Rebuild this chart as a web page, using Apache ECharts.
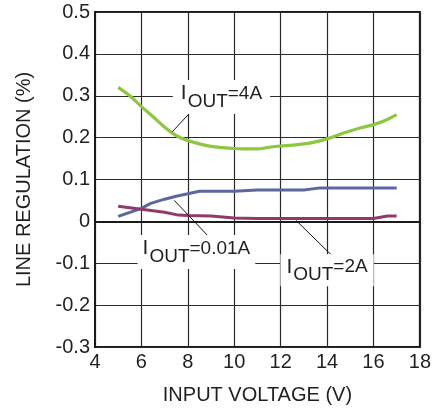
<!DOCTYPE html>
<html><head><meta charset="utf-8">
<script src="https://cdn.jsdelivr.net/npm/echarts@6/dist/echarts.min.js"></script>
<style>html,body{margin:0;padding:0;background:#fff}#c{width:434px;height:413px}</style>
</head><body><div id="c"></div>
<script>
// Data
const vin4A = [5,5.5,6,6.5,7,7.5,8,8.5,9,9.5,10,10.5,11,11.5,12,12.5,13,13.5,14,14.5,15,15.5,16,16.5,17];
const reg4A = [0.32,0.30,0.274,0.25,0.225,0.205,0.193,0.185,0.179,0.176,0.174,0.173,0.173,0.177,0.18,0.182,0.185,0.19,0.197,0.207,0.216,0.224,0.231,0.241,0.255];
const vin001A = [5,6,6.4,7,7.5,8,8.5,9,10,11,12,13,13.7,15,16,17];
const reg001A = [0.012,0.031,0.043,0.053,0.06,0.066,0.072,0.072,0.072,0.075,0.075,0.075,0.08,0.08,0.08,0.08];
const vin2A = [5,6,7,7.6,8,9,10,11,12,13,14,15,16,16.6,17];
const reg2A = [0.036,0.029,0.022,0.015,0.014,0.013,0.008,0.007,0.007,0.007,0.007,0.007,0.007,0.013,0.013];
const xTicks = [4,6,8,10,12,14,16,18];
const yTicks = [-0.3,-0.2,-0.1,0,0.1,0.2,0.3,0.4,0.5];
const labels = ['4A','0.01A','2A'];

const FONT = "'Liberation Sans', Arial, sans-serif";
const TXT = '#231f20';
const zip = (xs, ys) => xs.map((x, i) => [x, ys[i]]);

function ann(coord, cur, pad) {
  return {
    coord: coord, symbolSize: 0,
    label: {
      show: true, position: 'inside',
      formatter: '{i|I}{s|OUT}{n|=' + cur + '}',
      backgroundColor: '#fff', padding: pad,
      rich: {
        i: {fontSize: 21, fontFamily: FONT, color: TXT, padding: [0,1,8,0]},
        s: {fontSize: 19, fontFamily: FONT, color: TXT, padding: [8,0,0,0]},
        n: {fontSize: 19, fontFamily: FONT, color: TXT, padding: [0,0,8,0]}
      }
    }
  };
}
function leader(a, b) {
  return [{coord: a}, {coord: b}];
}
const mlBase = {symbol: ['none','none'], silent: true, animation: false,
  label: {show: false}, lineStyle: {color: '#111', width: 1, type: 'solid'}, emphasis: {disabled: true}};
const mpBase = {silent: true, animation: false, symbol: 'rect'};

const chart = echarts.init(document.getElementById('c'), null, {renderer: 'canvas'});
chart.setOption({
  animation: false,
  backgroundColor: '#fff',
  grid: {left: 95, right: 3, top: 12, bottom: 66, show: true, borderColor: '#1a1a1a', borderWidth: 2, backgroundColor: 'transparent'},
  xAxis: {
    type: 'value', min: xTicks[0], max: xTicks[xTicks.length-1], interval: 2,
    name: 'INPUT VOLTAGE (V)', nameLocation: 'middle', nameGap: 38,
    nameTextStyle: {fontSize: 20, fontFamily: FONT, color: TXT},
    axisLine: {show: true, lineStyle: {color: '#1a1a1a', width: 2}},
    axisTick: {show: false},
    axisLabel: {fontSize: 20, fontFamily: FONT, color: TXT, margin: 5, showMaxLabel: true, showMinLabel: true},
    splitLine: {show: true, lineStyle: {color: '#2a2a2a', width: 1.2}}
  },
  yAxis: {
    type: 'value', min: yTicks[0], max: yTicks[yTicks.length-1], interval: 0.1,
    name: 'LINE REGULATION (%)', nameLocation: 'middle', nameGap: 61,
    nameTextStyle: {fontSize: 20, fontFamily: FONT, color: TXT},
    axisLine: {show: true, lineStyle: {color: '#1a1a1a', width: 2}},
    axisTick: {show: false},
    axisLabel: {fontSize: 20, fontFamily: FONT, color: TXT, margin: 5,
      formatter: v => (Math.round(v*10)/10).toString()},
    splitLine: {show: true, lineStyle: {color: '#2a2a2a', width: 1.2}}
  },
  series: [
    {type: 'line', data: zip(vin4A, reg4A), showSymbol: false, smooth: 0.3,
     lineStyle: {color: '#8dc63f', width: 3.2}, z: 3,
     markLine: Object.assign({data: [leader([7.33,0.214],[8.46,0.281])]}, mlBase),
     markPoint: Object.assign({data: [ann([9.45,0.297], labels[0], [3,8,2,8])]}, mpBase)},
    {type: 'line', data: zip(vin001A, reg001A), showSymbol: false,
     lineStyle: {color: '#5c67a0', width: 3}, z: 3,
     markLine: Object.assign({data: [leader([7.42,0.05],[8.96,-0.04])]}, mlBase),
     markPoint: Object.assign({data: [ann([8.37,-0.073], labels[1], [3,5,2,5])]}, mpBase)},
    {type: 'line', data: zip(vin2A, reg2A), showSymbol: false,
     lineStyle: {color: '#913a6a', width: 3}, z: 3,
     markLine: Object.assign({data: [leader([12.67,0.002],[14.42,-0.093])]}, mlBase),
     markPoint: Object.assign({data: [ann([14.0,-0.117], labels[2], [2,6,1,6])]}, mpBase)}
  ]
});
</script></body></html>
